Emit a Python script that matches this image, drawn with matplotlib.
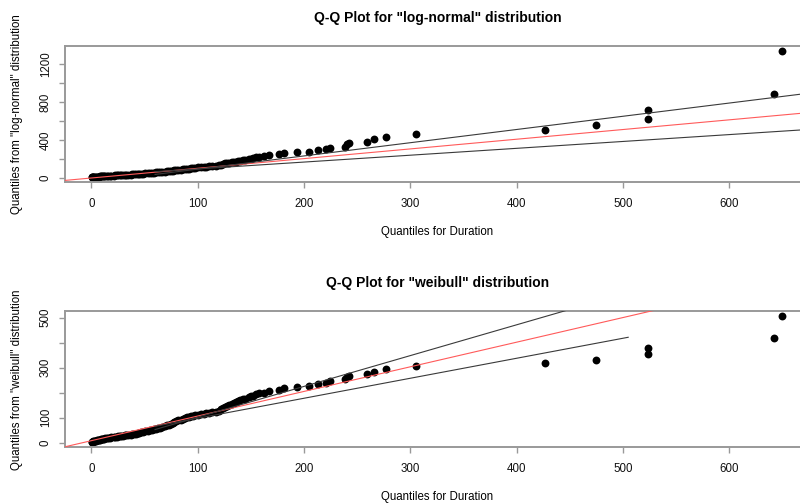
import matplotlib
matplotlib.use('Agg')
import matplotlib.pyplot as plt
import numpy as np

plt.rcParams['font.family'] = ['Liberation Sans', 'DejaVu Sans']

# sorted durations (x) and the matching theoretical quantiles for each fit
duration = [0.5, 1, 1.5, 2, 3, 3.5, 4, 5, 6, 7, 8, 9, 10, 11, 12, 13, 15, 16, 18, 19,
            21, 22, 24, 25, 27, 28, 30, 32, 33, 35, 37, 38, 40, 42, 44, 45, 47, 49, 51, 53,
            55, 57, 59, 61, 63, 65, 67, 69, 71, 73, 75, 77, 78, 80, 82, 84, 86, 88, 90, 92,
            94, 96, 98, 100, 103, 106, 108, 111, 114, 117, 120, 122, 124, 126, 128, 130, 132, 134, 136, 138,
            140, 143, 145, 148, 150, 152, 155, 158,
            162, 167, 177, 181.5, 193.5, 205, 213.5, 220.5, 225, 239, 241, 242.5, 259, 266, 277,
            305, 427, 475, 524, 524, 642, 650]

q_lognormal = [6, 7, 8, 9, 10, 11, 12, 13, 14, 15, 16, 17, 18, 19, 20, 21, 22, 23, 24, 25,
               26, 27, 28, 29, 30, 31, 32, 33, 34, 35, 36, 38, 39, 40, 42, 43, 45, 47, 49, 51,
               53, 55, 57, 59, 61, 63, 65, 67, 70, 72, 75, 78, 80, 82, 85, 88, 91, 94, 97, 99,
               102, 105, 108, 111, 115, 118, 121, 124, 127, 130, 134, 142, 148, 153, 157, 161, 164, 168, 172, 176,
               180, 186, 191, 198, 204, 210, 218, 226,
               235, 242, 250, 262, 270, 277, 291, 305, 316, 330, 358, 372, 382, 407, 432,
               463, 505, 555, 621, 716, 884, 1340]

q_weibull = [2, 3, 4, 5, 6, 7, 8, 9, 10, 11, 12, 13, 14, 15, 16, 17, 18, 19, 20, 21,
             22, 23, 24, 25, 26, 27, 28, 29, 30, 31, 32, 33, 35, 36, 38, 39, 41, 43, 45, 47,
             49, 51, 53, 55, 58, 60, 63, 66, 69, 72, 75, 79, 82, 85, 89, 92, 95, 98, 101, 104,
             106, 108, 110, 112, 114, 116, 118, 120, 122, 124, 127, 133, 138, 142, 147, 151, 155, 159, 163, 166,
             169, 173, 176, 181, 185, 188, 193, 197,
             199, 206, 212, 219, 223, 227, 234, 239, 245, 253, 263, 268, 274, 282, 294,
             305, 318, 332, 354, 380, 420, 506]

# reference line (intercept, slope) and envelope lines (intercept, slope, x from, x to)
ln_ref = (0, 1.02)
ln_env = [(-46, 1.391, 60, 680), (23, 0.723, 60, 680)]
wb_ref = (8, 0.985)
wb_env = [(-21.3, 1.232, 60, 680), (17.7, 0.80, 60, 505)]

xticks = [0, 100, 200, 300, 400, 500, 600]
ln_yticks = [0, 200, 400, 600, 800, 1000, 1200]
ln_ylabels = ['0', '', '400', '', '800', '', '1200']
wb_yticks = [0, 100, 200, 300, 400, 500]
wb_ylabels = ['0', '100', '', '300', '', '500']

BOX = '#999999'


def panel(ax, y, ref, env, yticks, ylabels, ylim, name):
    ax.scatter(duration, y, s=32, color='black', linewidths=0, zorder=2)
    xx = np.array([-40, 700])
    ax.plot(xx, ref[0] + ref[1] * xx, color='#ff5a5a', lw=0.8, zorder=3)
    for b, m, x0, x1 in env:
        xs = np.array([x0, x1])
        ax.plot(xs, b + m * xs, color='#3a3a3a', lw=0.8, zorder=3)
    ax.set_xlim(-24.7, 676)
    ax.set_ylim(*ylim)
    ax.set_xticks(xticks)
    ax.set_yticks(yticks)
    ax.set_yticklabels(ylabels, rotation=90, va='center')
    ax.spines['right'].set_visible(False)
    for s in ['left', 'bottom', 'top']:
        ax.spines[s].set_color(BOX)
        ax.spines[s].set_linewidth(1.4)
    ax.tick_params(axis='both', colors=BOX, labelcolor='#111111', length=4.5,
                   width=1, labelsize=8.3)
    ax.tick_params(axis='x', pad=7)
    ax.tick_params(axis='y', pad=5)
    ax.text(0.5, 1 + 28 / 136, 'Q-Q Plot for "%s" distribution' % name,
            transform=ax.transAxes, ha='center', va='center',
            fontsize=10, fontweight='bold')
    ax.text(0.5, -50 / 136, 'Quantiles for Duration', transform=ax.transAxes,
            ha='center', va='center', fontsize=8.3)
    ax.text(-48 / 745, 0.5, 'Quantiles from "%s" distribution' % name,
            transform=ax.transAxes, rotation=90, ha='center', va='center',
            fontsize=8.3)


fig = plt.figure(figsize=(8, 5.03), dpi=100)
W = 745 / 800
H = 136 / 503
ax1 = fig.add_axes([65 / 800, 1 - 182 / 503, W, H])
ax2 = fig.add_axes([65 / 800, 1 - 447.3 / 503, W, H])

panel(ax1, q_lognormal, ln_ref, ln_env, ln_yticks, ln_ylabels, (-42, 1389), 'log-normal')
panel(ax2, q_weibull, wb_ref, wb_env, wb_yticks, wb_ylabels, (-18.4, 525.6), 'weibull')

fig.savefig('out.png', dpi=100)
